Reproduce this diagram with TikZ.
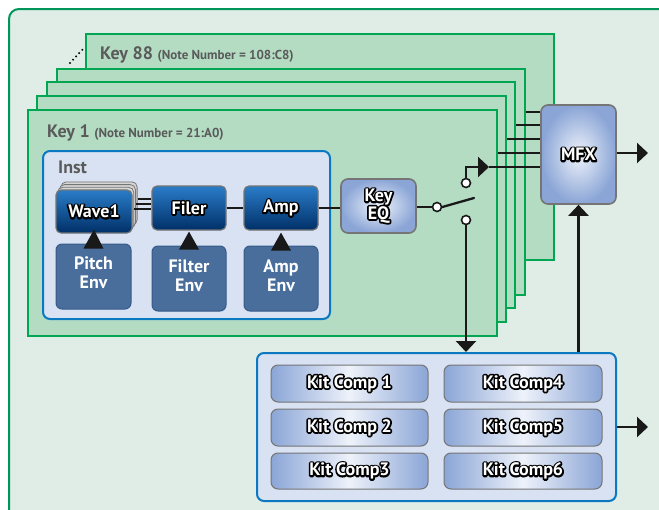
\documentclass[tikz,border=0pt]{standalone}
\usepackage{fontspec}
\setmainfont{PT Sans}
\usetikzlibrary{arrows.meta}
\definecolor{bgc}{HTML}{E0EDE6}
\definecolor{bgborder}{HTML}{00965A}
\definecolor{keyfill}{HTML}{B3DCC3}
\definecolor{keyborder}{HTML}{00A651}
\definecolor{instfill}{HTML}{D8E2F3}
\definecolor{instborder}{HTML}{0B78C2}
\definecolor{envfill}{HTML}{4A6E9C}
\definecolor{envborder}{HTML}{365B8A}
\definecolor{lbl}{HTML}{5A5A5A}
\definecolor{boxgray}{HTML}{757575}
\definecolor{dbtop}{HTML}{2A7CC8}
\definecolor{dbbot}{HTML}{003068}
\definecolor{lbin}{HTML}{EEF2FA}
\definecolor{lbout}{HTML}{8AA5D6}
\definecolor{shadowc}{HTML}{D6D6D6}
\newcommand{\outl}[1]{\leavevmode\rlap{\textcolor{black}{\special{pdf:literal direct 2 Tr 3.3 w 1 j}#1\special{pdf:literal direct 0 Tr}}}\textcolor{white}{#1}}
\tikzset{
  keyframe/.style={draw=keyborder, fill=keyfill, line width=2.5pt},
  darkbox/.style={draw=boxgray, line width=1.2pt, rounded corners=5pt, top color=dbtop, bottom color=dbbot, font=\fontsize{18}{18}\selectfont\bfseries},
  shadowbox/.style={draw=boxgray, line width=0.8pt, rounded corners=5pt, fill=shadowc},
  envbox/.style={draw=envborder, fill=envfill, line width=1pt, rounded corners=6pt},
  envtext/.style={text=white, align=center, inner sep=0pt, font=\fontsize{18}{19}\selectfont\bfseries},
  radbox/.style={draw=boxgray, line width=1.6pt, rounded corners=7pt, inner color=lbin, outer color=lbout, align=center, font=\fontsize{18}{16}\selectfont\bfseries},
  kitbox/.style={draw=boxgray, line width=1pt, rounded corners=7pt, left color=lbout, right color=lbout, middle color=lbin, font=\fontsize{18}{18}\selectfont\bfseries},
  groupbox/.style={draw=instborder, fill=instfill, line width=2pt, rounded corners=7pt},
  conn/.style={line width=2.3pt, draw=black!90},
  thinconn/.style={line width=1.6pt, draw=black!90},
  tip/.style={-{Triangle[length=11pt,width=20pt]}},
  contact/.style={circle, draw=black!90, fill=white, line width=1.6pt, inner sep=0pt, minimum size=9pt},
  keylabel/.style={anchor=base west, text=lbl, inner sep=0pt, font=\bfseries}
}
\begin{document}
\begin{tikzpicture}[x=1pt,y=-1pt]
\useasboundingbox (0,0) rectangle (659,509);
\clip (0,0) rectangle (659,509);
% outer frame
\draw[fill=bgc, draw=bgborder, line width=2pt, rounded corners=10pt] (9,9) rectangle (680,530);
% key frames
\node[keyframe, minimum width=468pt, minimum height=226pt, inner sep=0pt] (k88) at (320,147) {};
\node[keyframe, minimum width=468pt, minimum height=226pt, inner sep=0pt] (k2) at (291,182) {};
\node[keyframe, minimum width=468pt, minimum height=226pt, inner sep=0pt] (k3) at (281,195) {};
\node[keyframe, minimum width=469pt, minimum height=226pt, inner sep=0pt] (k4) at (271.5,209) {};
\node[keyframe, minimum width=469pt, minimum height=226pt, inner sep=0pt] (k1) at (262.5,223) {};
\coordinate (d1) at (70,63);
\coordinate (d2) at (84,48);
\draw[line width=2.2pt, dash pattern=on 0pt off 4.5pt, line cap=round] (d1) -- (d2);
\node[keylabel] (k88t) at (100,59) {\fontsize{18}{20}\selectfont Key 88 \fontsize{13}{14}\selectfont(Note Number = 108:C8)};
\node[keylabel] (k1t) at (47,137) {\fontsize{18}{20}\selectfont Key 1 \fontsize{13}{14}\selectfont(Note Number = 21:A0)};
% inst
\node[groupbox, minimum width=287pt, minimum height=168pt, inner sep=0pt] (inst) at (186.5,235) {};
\node[keylabel] (instt) at (58,173) {\fontsize{18}{19}\selectfont Inst};
% wave stack
\node[shadowbox, minimum width=76pt, minimum height=43pt] (w3) at (99.1,203.4) {};
\node[shadowbox, minimum width=76pt, minimum height=43pt] (w2) at (97.4,206.1) {};
\node[shadowbox, minimum width=76pt, minimum height=43pt] (w1) at (95.7,208.8) {};
\node[darkbox, minimum width=76pt, minimum height=43pt] (wave) at (94,211.5) {\outl{Wave1}};
\node[darkbox, minimum width=74pt, minimum height=44pt] (filer) at (189,208) {\outl{Filer}};
\node[darkbox, minimum width=74pt, minimum height=44pt] (amp) at (281,208) {\outl{Amp}};
\draw[thinconn] (w3.east |- 0,199) -- (filer.west |- 0,199);
\draw[thinconn] (w2.east |- 0,204) -- (filer.west |- 0,204);
\draw[thinconn] (w1.east |- 0,209) -- (filer.west |- 0,209);
\draw[conn] (filer.east) -- (amp.west);
% envs
\node[envbox, minimum width=75pt, minimum height=65pt] (penv) at (93.5,276.5) {};
\node[envbox, minimum width=74pt, minimum height=65pt] (fenv) at (189,278.5) {};
\node[envbox, minimum width=74pt, minimum height=65pt] (aenv) at (281,278.5) {};
\node[envtext] (pt) at ([yshift=4pt]penv.center) {Pitch\\Env};
\node[envtext] (ft) at ([yshift=3pt]fenv.center) {Filter\\Env};
\node[envtext] (at) at ([yshift=3pt]aenv.center) {Amp\\Env};
\fill[black!90] ([xshift=-10pt,yshift=-5pt]penv.north) -- ([xshift=10pt,yshift=-5pt]penv.north) -- ([yshift=4pt]wave.south) -- cycle;
\fill[black!90] ([xshift=-10pt,yshift=-4pt]fenv.north) -- ([xshift=10pt,yshift=-4pt]fenv.north) -- ([yshift=-1pt]filer.south) -- cycle;
\fill[black!90] ([xshift=-10pt,yshift=-5pt]aenv.north) -- ([xshift=10pt,yshift=-5pt]aenv.north) -- ([yshift=-2pt]amp.south) -- cycle;
% key eq
\node[radbox, minimum width=75pt, minimum height=54pt] (keyeq) at (378.5,206) {\outl{Key}\\\outl{EQ}};
\draw[conn] (amp.east) -- (amp.east -| keyeq.west);
% switch
\node[contact] (c1) at (437,207) {};
\node[contact] (c2) at (466,183) {};
\node[contact] (c3) at (466,220) {};
\coordinate (blade) at (474,198);
\draw[conn] (keyeq.east |- c1) -- (c1.west);
\draw[conn, line cap=round] (c1.east) -- (blade);
% MFX
\node[radbox, minimum width=75pt, minimum height=99pt] (mfx) at (578.5,154.5) {\outl{MFX}};
\coordinate (swtip) at (489,167);
\draw[conn] (swtip) -- (mfx.west |- swtip);
\draw[conn, tip] (c2.north) |- (swtip);
\draw[conn] (k1.east |- 0,153) -- (mfx.west |- 0,153);
\draw[conn] (k4.east |- 0,139) -- (mfx.west |- 0,139);
\draw[conn] (k3.east |- 0,125) -- (mfx.west |- 0,125);
\draw[conn] (k2.east |- 0,112) -- (mfx.west |- 0,112);
\coordinate (mfxout) at (648,153);
\draw[conn, tip] (mfx.east |- mfxout) -- (mfxout);
% kit
\node[groupbox, minimum width=359pt, minimum height=148pt, inner sep=0pt] (kit) at (436.5,427) {};
\node[kitbox, minimum width=157pt, minimum height=37pt] (kc1) at (349.5,383.5) {\outl{Kit Comp 1}};
\node[kitbox, minimum width=157pt, minimum height=37pt] (kc2) at (349.5,427.5) {\outl{Kit Comp 2}};
\node[kitbox, minimum width=157pt, minimum height=36pt] (kc3) at (349.5,471) {\outl{Kit Comp3}};
\node[kitbox, minimum width=158pt, minimum height=37pt] (kc4) at (523,383.5) {\outl{Kit Comp4}};
\node[kitbox, minimum width=158pt, minimum height=37pt] (kc5) at (523,427.5) {\outl{Kit Comp5}};
\node[kitbox, minimum width=158pt, minimum height=36pt] (kc6) at (523,471) {\outl{Kit Comp6}};
\draw[conn, tip] (c3.south) -- (c3 |- kit.north);
\draw[conn, tip] (kit.north -| mfx.south) -- (mfx.south);
\coordinate (kitout) at (648,427);
\draw[conn, tip] (kit.east) -- (kitout);
\end{tikzpicture}
\end{document}
